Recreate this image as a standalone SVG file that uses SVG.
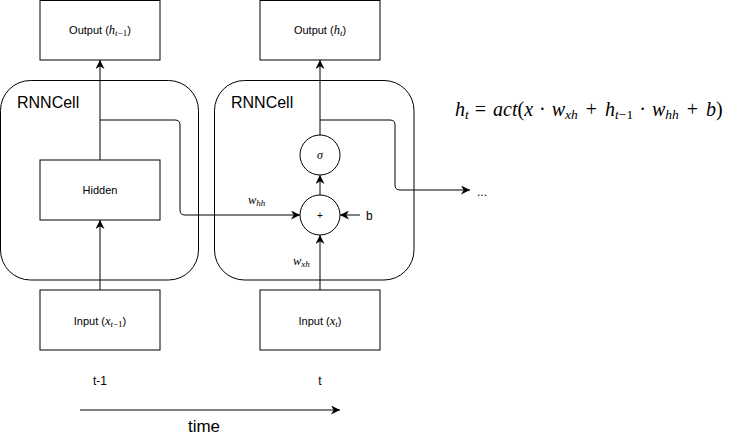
<svg xmlns="http://www.w3.org/2000/svg" width="745" height="441" viewBox="0 0 745 441">
<defs>
<marker id="ah" viewBox="0 0 10 10" refX="10" refY="5" markerWidth="9" markerHeight="9" markerUnits="userSpaceOnUse" orient="auto">
<path d="M0,0 L10,5 L0,10 L3,5 z" fill="#000"/>
</marker>
<style>
.box{fill:#fff;stroke:#000;stroke-width:1}
.cell{fill:none;stroke:#000;stroke-width:1}
.ln{fill:none;stroke:#000;stroke-width:1}
.arr{fill:none;stroke:#000;stroke-width:1;marker-end:url(#ah)}
.s{font-family:"Liberation Sans",Arial,sans-serif;fill:#000}
.m{font-family:"Liberation Serif","DejaVu Serif",serif;font-style:italic;fill:#000}
.mu{font-family:"Liberation Serif","DejaVu Serif",serif;fill:#000}
</style>
</defs>
<rect width="745" height="441" fill="#fff"/>
<g id="cell-prev"><rect class="cell" x="0.5" y="80.5" width="198" height="199.5" rx="30" ry="30"/><text class="s" x="17" y="108" font-size="16">RNNCell</text></g>
<g id="cell-cur"><rect class="cell" x="214.5" y="80.5" width="199.5" height="199.5" rx="30" ry="30"/><text class="s" x="231" y="108" font-size="16">RNNCell</text></g>
<g id="out-prev"><rect class="box" x="40" y="0.5" width="120" height="59.5"/><text x="100" y="34" text-anchor="middle"><tspan class="s" font-size="11">Output (</tspan><tspan class="m" font-size="12.5">h</tspan><tspan class="m" font-size="9" dy="2">t</tspan><tspan class="mu" font-size="9">−1</tspan><tspan class="s" font-size="11" dy="-2">)</tspan></text></g>
<g id="out-cur"><rect class="box" x="260" y="0.5" width="120" height="59.5"/><text x="320" y="34" text-anchor="middle"><tspan class="s" font-size="11">Output (</tspan><tspan class="m" font-size="12.5">h</tspan><tspan class="m" font-size="9" dy="2">t</tspan><tspan class="s" font-size="11" dy="-2">)</tspan></text></g>
<g id="hidden"><rect class="box" x="40" y="160" width="120" height="60"/><text class="s" x="100" y="194" font-size="11" text-anchor="middle">Hidden</text></g>
<g id="in-prev"><rect class="box" x="40" y="290" width="120" height="60"/><text x="100" y="325" text-anchor="middle"><tspan class="s" font-size="11">Input (</tspan><tspan class="m" font-size="12.5">x</tspan><tspan class="m" font-size="9" dy="2">t</tspan><tspan class="mu" font-size="9">−1</tspan><tspan class="s" font-size="11" dy="-2">)</tspan></text></g>
<g id="in-cur"><rect class="box" x="260" y="290" width="120" height="60"/><text x="320" y="325" text-anchor="middle"><tspan class="s" font-size="11">Input (</tspan><tspan class="m" font-size="12.5">x</tspan><tspan class="m" font-size="9" dy="2">t</tspan><tspan class="s" font-size="11" dy="-2">)</tspan></text></g>
<g id="sigma"><circle class="box" cx="320" cy="155" r="20"/><text class="m" x="320" y="159" font-size="12" text-anchor="middle">σ</text></g>
<g id="plus"><circle class="box" cx="320" cy="215" r="20"/><text class="s" x="320" y="219" font-size="10" text-anchor="middle">+</text></g>
<g id="connectors">
<line class="arr" x1="100" y1="160" x2="100" y2="60"/>
<line class="arr" x1="100" y1="290" x2="100" y2="220"/>
<path class="arr" d="M100,120 H175 Q180,120 180,125 V210 Q180,215 185,215 H300"/>
<line class="arr" x1="320" y1="195" x2="320" y2="175"/>
<line class="arr" x1="320" y1="135" x2="320" y2="60"/>
<line class="arr" x1="320" y1="290" x2="320" y2="235"/>
<line class="arr" x1="360" y1="215" x2="340" y2="215"/>
<path class="arr" d="M320,120 H390 Q395,120 395,125 V185 Q395,190 400,190 H470"/>
<line class="arr" x1="80" y1="410" x2="340" y2="410"/>
</g>
<g id="labels">
<text x="248" y="204"><tspan class="m" font-size="12.5">w</tspan><tspan class="m" font-size="9" dy="2">hh</tspan></text>
<text x="293" y="265"><tspan class="m" font-size="12.5">w</tspan><tspan class="m" font-size="9" dy="2">xh</tspan></text>
<text class="s" x="366" y="220" font-size="12">b</text>
<text class="s" x="477" y="196" font-size="12">...</text>
<text class="s" x="100" y="385" font-size="12" text-anchor="middle">t-1</text>
<text class="s" x="320" y="385" font-size="12" text-anchor="middle">t</text>
<text class="s" x="204" y="432" font-size="17" text-anchor="middle">time</text>
<text x="455" y="116" font-size="20"><tspan class="m">h</tspan><tspan class="m" font-size="13.5" dy="3">t</tspan><tspan class="mu" dy="-3" dx="6">=</tspan><tspan class="m" dx="7">act</tspan><tspan class="mu">(</tspan><tspan class="m">x</tspan><tspan class="mu" dx="6">·</tspan><tspan class="m" dx="6">w</tspan><tspan class="m" font-size="13.5" dy="3">xh</tspan><tspan class="mu" dy="-3" dx="8">+</tspan><tspan class="m" dx="8">h</tspan><tspan class="m" font-size="13.5" dy="3">t</tspan><tspan class="mu" font-size="13.5">−1</tspan><tspan class="mu" dy="-3" dx="6">·</tspan><tspan class="m" dx="6">w</tspan><tspan class="m" font-size="13.5" dy="3">hh</tspan><tspan class="mu" dy="-3" dx="8">+</tspan><tspan class="m" dx="8">b</tspan><tspan class="mu">)</tspan></text>
</g>
</svg>
